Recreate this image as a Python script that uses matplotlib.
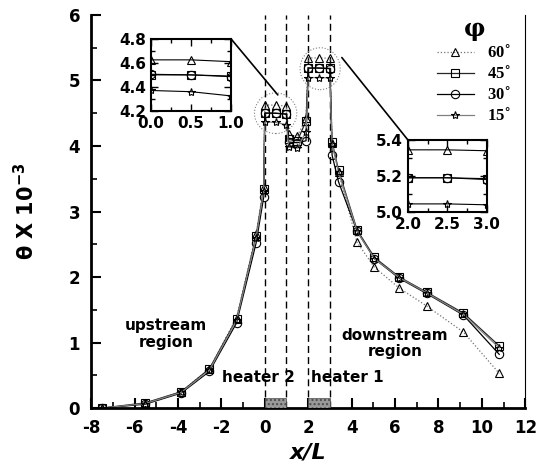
import numpy as np
import matplotlib
matplotlib.use("Agg")
import matplotlib.pyplot as plt
from matplotlib.patches import Ellipse, Rectangle, ConnectionPatch
from matplotlib.ticker import MultipleLocator

plt.rcParams['font.family'] = ['DejaVu Sans']
plt.rcParams['font.weight'] = 'bold'
plt.rcParams['axes.unicode_minus'] = False

# x/L positions of the measuring stations
x_up = [-7.5, -5.5, -3.85, -2.55, -1.3, -0.4, -0.05]
x_h2 = [0.0, 0.5, 1.0]
x_mid = [1.1, 1.5, 1.9]
x_h1 = [2.0, 2.5, 3.0]
x_dn = [3.1, 3.4, 4.25, 5.05, 6.2, 7.45, 9.15, 10.8]
x_all = x_up + x_h2 + x_mid + x_h1 + x_dn

# theta x 10^-3 for each inclination angle
t60 = [0.0, 0.07, 0.25, 0.60, 1.38, 2.65, 3.38,
       4.625, 4.625, 4.61,
       4.18, 4.15, 4.42,
       5.345, 5.345, 5.34,
       4.05, 3.60, 2.53, 2.15, 1.83, 1.56, 1.16, 0.53]
t45 = [0.0, 0.08, 0.25, 0.60, 1.36, 2.63, 3.35,
       4.50, 4.50, 4.49,
       4.10, 4.08, 4.38,
       5.19, 5.19, 5.185,
       4.06, 3.63, 2.72, 2.30, 2.00, 1.77, 1.45, 0.95]
t30 = [0.0, 0.06, 0.23, 0.56, 1.30, 2.52, 3.22,
       4.505, 4.50, 4.485,
       4.06, 4.05, 4.08,
       5.19, 5.19, 5.18,
       3.86, 3.45, 2.70, 2.28, 1.98, 1.75, 1.42, 0.82]
t15 = [0.0, 0.07, 0.24, 0.58, 1.34, 2.60, 3.32,
       4.37, 4.36, 4.325,
       3.98, 3.97, 4.22,
       5.045, 5.045, 5.04,
       4.03, 3.60, 2.70, 2.28, 1.99, 1.76, 1.43, 0.92]

labels = ['60$^{\\circ}$', '45$^{\\circ}$', '30$^{\\circ}$', '15$^{\\circ}$']
markers = ['^', 's', 'o', '*']
lstyles = [':', '-', '-', '-']
lcolors = ['0.45', '0.15', 'black', '0.5']
series = [t60, t45, t30, t15]

fig = plt.figure(figsize=(5.36, 4.68), dpi=100)
ax = fig.add_axes([0.170, 0.128, 0.810, 0.840])

for ys, m, ls, c, lab in zip(series, markers, lstyles, lcolors, labels):
    ax.plot(x_all, ys, linestyle=ls, color=c, lw=0.9, marker=m, ms=6,
            mfc='none', mec='black', mew=0.8, label=lab)

for xv in [0, 1, 2, 3]:
    ax.axvline(xv, color='black', ls=(0, (5, 3)), lw=1.0, zorder=0)

for x0 in [0, 2]:
    ax.add_patch(Rectangle((x0, 0), 1, 0.15, facecolor='0.6', edgecolor='0.3',
                           hatch='....', lw=0.5, zorder=3))

e2 = Ellipse((0.5, 4.5), 1.95, 0.62, fill=False, ls=':', ec='0.5', lw=0.8)
e1 = Ellipse((2.55, 5.18), 1.85, 0.64, fill=False, ls=':', ec='0.5', lw=0.8)
ax.add_patch(e2)
ax.add_patch(e1)

ax.set_xlim(-8, 12)
ax.set_ylim(0, 6)
ax.xaxis.set_major_locator(MultipleLocator(2))
ax.xaxis.set_minor_locator(MultipleLocator(1))
ax.yaxis.set_major_locator(MultipleLocator(1))
ax.yaxis.set_minor_locator(MultipleLocator(0.5))
ax.tick_params(which='major', direction='in', length=7, width=1.5, labelsize=12, pad=8)
ax.tick_params(which='minor', direction='in', length=4, width=1.2)
for lab in ax.get_xticklabels() + ax.get_yticklabels():
    lab.set_fontweight('bold')
ax.spines['left'].set_linewidth(2)
ax.spines['bottom'].set_linewidth(2)
ax.spines['right'].set_linewidth(0.8)
ax.spines['top'].set_visible(False)

ax.set_xlabel('x/L', fontsize=16, fontweight='bold', style='italic', labelpad=4)
ax.set_ylabel('\u03b8 X 10$^{\\mathbf{-3}}$', fontsize=15, fontweight='bold', labelpad=22)

ax.text(-4.55, 1.13, 'upstream\nregion', ha='center', va='center', fontsize=11,
        fontweight='bold', linespacing=1.1)
ax.text(-0.3, 0.47, 'heater 2', ha='center', va='center', fontsize=11, fontweight='bold')
ax.text(3.8, 0.46, 'heater 1', ha='center', va='center', fontsize=11, fontweight='bold')
ax.text(6.0, 0.98, 'downstream\nregion', ha='center', va='center', fontsize=11,
        fontweight='bold', linespacing=1.1)

leg = ax.legend(loc='upper right', bbox_to_anchor=(0.995, 1.025), frameon=False,
                title='\u03c6', handlelength=2.2, handletextpad=0.8, labelspacing=0.22,
                borderpad=0.2, prop={'family': 'Liberation Serif', 'weight': 'bold', 'size': 12})
leg.get_title().set_fontsize(17)
leg.get_title().set_fontweight('bold')
leg.get_title().set_family('DejaVu Serif')


def inset(rect, xl, yl, yticks, xs, sl):
    a = fig.add_axes(rect)
    for ys, m in zip(series, markers):
        a.plot(xs, ys[sl], color='black', lw=0.8, marker=m, ms=6, mfc='none',
               mec='black', mew=0.8)
    a.set_xlim(*xl)
    a.set_ylim(*yl)
    a.set_xticks(np.linspace(xl[0], xl[1], 3))
    a.xaxis.set_minor_locator(MultipleLocator(0.25))
    a.set_yticks(yticks)
    a.yaxis.set_minor_locator(MultipleLocator((yticks[1] - yticks[0]) / 2))
    a.tick_params(which='both', direction='in', top=True, right=True, labelsize=11)
    a.tick_params(which='major', length=5, width=1)
    a.tick_params(which='minor', length=3, width=1)
    for lab in a.get_xticklabels() + a.get_yticklabels():
        lab.set_fontweight('bold')
    for s in a.spines.values():
        s.set_linewidth(1.5)
    a.xaxis.set_major_formatter(plt.FormatStrFormatter('%.1f'))
    a.yaxis.set_major_formatter(plt.FormatStrFormatter('%.1f'))
    return a


n2 = len(x_up)
n1 = len(x_up) + len(x_h2) + len(x_mid)
ax_l = inset([0.282, 0.763, 0.149, 0.154], (0, 1), (4.2, 4.8), [4.2, 4.4, 4.6, 4.8],
             x_h2, slice(n2, n2 + 3))
ax_r = inset([0.761, 0.547, 0.147, 0.154], (2, 3), (5.0, 5.4), [5.0, 5.2, 5.4],
             x_h1, slice(n1, n1 + 3))

fig.add_artist(ConnectionPatch(xyA=(1, 1), coordsA=ax_l.transAxes,
                               xyB=(0.6, 4.78), coordsB=ax.transData, lw=1.2))
fig.add_artist(ConnectionPatch(xyA=(0, 1), coordsA=ax_r.transAxes,
                               xyB=(3.55, 5.35), coordsB=ax.transData, lw=1.2))

fig.savefig('out.png', dpi=100)
